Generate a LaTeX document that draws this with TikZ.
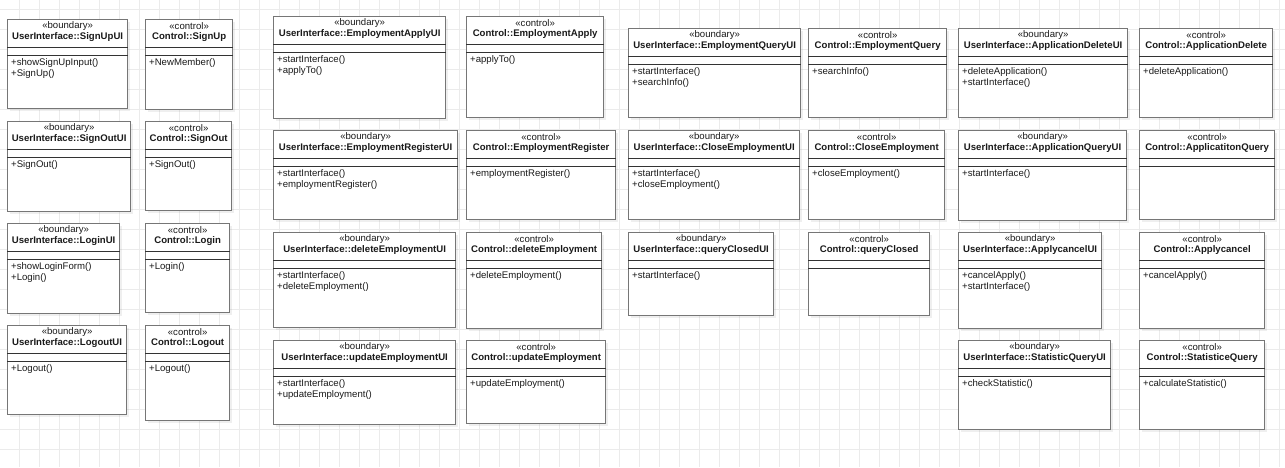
\documentclass[tikz,border=0pt]{standalone}
\usepackage{fontspec}
\setmainfont{Liberation Sans}
\usepackage{tikz}
\usepackage{xcolor}
\usetikzlibrary{shadows}

\definecolor{gridgray}{HTML}{EBEBEB}
\definecolor{framegray}{HTML}{767676}
\definecolor{textgray}{HTML}{1A1A1A}

\tikzset{
  gridline/.style={draw=gridgray, line width=0.8pt},
  classframe/.style={draw=framegray, line width=1.3pt, fill=white, inner sep=0pt,
    drop shadow={opacity=0.12, shadow xshift=2pt, shadow yshift=-2pt}},
  stereo/.style={inner sep=0pt, text=textgray, font=\fontsize{9.6}{11}\selectfont},
  title/.style={inner sep=0pt, text=textgray, font=\fontsize{9.6}{11}\selectfont\bfseries},
  sepline/.style={draw=black!80, line width=0.9pt},
  ops/.style={anchor=north west, inner sep=1pt, align=left, text=textgray,
    font=\fontsize{9.6}{11.2}\selectfont}
}

%% class box: name, x, y, width, height, stereotype, title, operations
\newcommand{\umlclass}[8]{%
  \node[classframe, anchor=north west, minimum width=#4pt, minimum height=#5pt] (#1) at (#2,#3) {};
  \node[stereo] (#1-st) at ([yshift=-7.5pt]#1.north) {«#6»};
  \node[title] (#1-ti) at ([yshift=-18.5pt]#1.north) {#7};
  \draw[sepline] ([yshift=-28.5pt]#1.north west) -- ([yshift=-28.5pt]#1.north east);
  \draw[sepline] ([yshift=-36pt]#1.north west) -- ([yshift=-36pt]#1.north east);
  \node[ops] (#1-op) at ([xshift=3pt,yshift=-38.5pt]#1.north west) {#8};
}

\begin{document}
\begin{tikzpicture}[x=1pt, y=-1pt]
	%% page and grid
	\useasboundingbox (0,0) rectangle (1285,467);
	\fill[white] (0,0) rectangle (1285,467);
	\foreach \gx in {19,39,...,1279} \draw[gridline] (\gx,0) -- (\gx,467);
	\foreach \gy in {9,29,...,449} \draw[gridline] (0,\gy) -- (1285,\gy);
	%% sign up / sign out / login / logout
	\umlclass{signupui}{7}{19}{120}{89}{boundary}{UserInterface::SignUpUI}{+showSignUpInput()\\+SignUp()}
	\umlclass{signupc}{145}{19}{87}{90}{control}{Control::SignUp}{+NewMember()}
	\umlclass{signoutui}{7}{121}{123}{90}{boundary}{UserInterface::SignOutUI}{+SignOut()}
	\umlclass{signoutc}{145}{121}{86}{89}{control}{Control::SignOut}{+SignOut()}
	\umlclass{loginui}{7}{223}{112}{90}{boundary}{UserInterface::LoginUI}{+showLoginForm()\\+Login()}
	\umlclass{loginc}{145}{223}{84}{89}{control}{Control::Login}{+Login()}
	\umlclass{logoutui}{7}{325}{119}{89}{boundary}{UserInterface::LogoutUI}{+Logout()}
	\umlclass{logoutc}{145}{325}{84}{95}{control}{Control::Logout}{+Logout()}
	%% employment apply / register / delete / update
	\umlclass{applyui}{273}{16}{172}{102}{boundary}{UserInterface::EmploymentApplyUI}{+startInterface()\\+applyTo()}
	\umlclass{applyc}{466}{16}{137}{101}{control}{Control::EmploymentApply}{+applyTo()}
	\umlclass{registerui}{273}{130}{184}{89}{boundary}{UserInterface::EmploymentRegisterUI}{+startInterface()\\+employmentRegister()}
	\umlclass{registerc}{466}{130}{149}{89}{control}{Control::EmploymentRegister}{+employmentRegister()}
	\umlclass{deleteui}{273}{232}{182}{95}{boundary}{UserInterface::deleteEmploymentUI}{+startInterface()\\+deleteEmployment()}
	\umlclass{deletec}{466}{232}{135}{96}{control}{Control::deleteEmployment}{+deleteEmployment()}
	\umlclass{updateui}{273}{340}{182}{84}{boundary}{UserInterface::updateEmploymentUI}{+startInterface()\\+updateEmployment()}
	\umlclass{updatec}{466}{340}{139}{83}{control}{Control::updateEmployment}{+updateEmployment()}
	%% employment query / close / closed
	\umlclass{queryui}{628}{28}{172}{89}{boundary}{UserInterface::EmploymentQueryUI}{+startInterface()\\+searchInfo()}
	\umlclass{queryc}{808}{28}{138}{89}{control}{Control::EmploymentQuery}{+searchInfo()}
	\umlclass{closeui}{628}{130}{171}{89}{boundary}{UserInterface::CloseEmploymentUI}{+startInterface()\\+closeEmployment()}
	\umlclass{closec}{808}{130}{136}{89}{control}{Control::CloseEmployment}{+closeEmployment()}
	\umlclass{qclosedui}{628}{232}{145}{83}{boundary}{UserInterface::queryClosedUI}{+startInterface()}
	\umlclass{qclosedc}{808}{232}{121}{83}{control}{Control::queryClosed}{}
	%% applications and statistics
	\umlclass{appdelui}{958}{28}{169}{89}{boundary}{UserInterface::ApplicationDeleteUI}{+deleteApplication()\\+startInterface()}
	\umlclass{appdelc}{1139}{28}{133}{89}{control}{Control::ApplicationDelete}{+deleteApplication()}
	\umlclass{appqueryui}{958}{130}{168}{90}{boundary}{UserInterface::ApplicationQueryUI}{+startInterface()}
	\umlclass{appqueryc}{1139}{130}{135}{89}{control}{Control::ApplicatitonQuery}{}
	\umlclass{cancelui}{958}{232}{143}{96}{boundary}{UserInterface::ApplycancelUI}{+cancelApply()\\+startInterface()}
	\umlclass{cancelc}{1139}{232}{125}{96}{control}{Control::Applycancel}{+cancelApply()}
	\umlclass{statui}{958}{340}{152}{89}{boundary}{UserInterface::StatisticQueryUI}{+checkStatistic()}
	\umlclass{statc}{1139}{340}{125}{89}{control}{Control::StatisticeQuery}{+calculateStatistic()}
\end{tikzpicture}
\end{document}
